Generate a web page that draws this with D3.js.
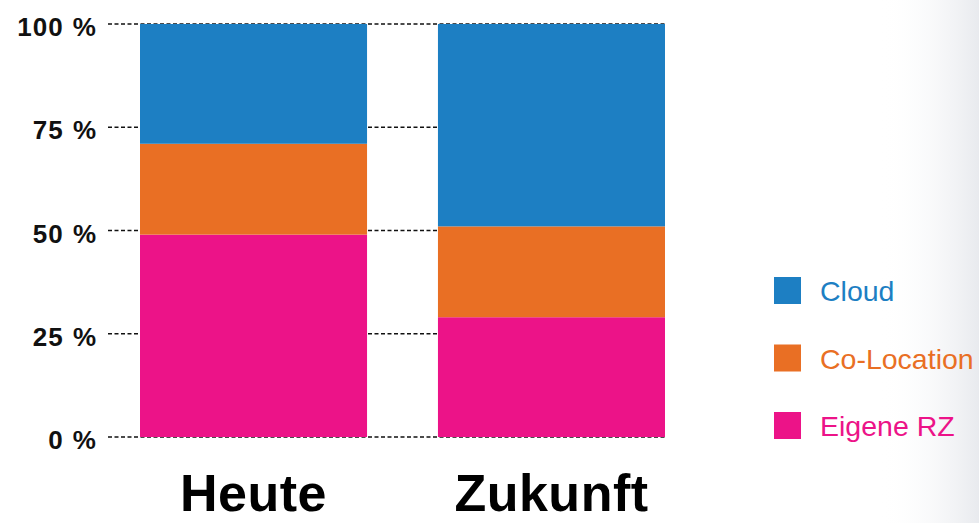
<!DOCTYPE html>
<html>
<head>
<meta charset="utf-8">
<script src="https://cdn.jsdelivr.net/npm/d3@7/dist/d3.min.js"></script>
<style>
  html, body { margin: 0; padding: 0; background: #fff; }
  svg { display: block; font-family: "Liberation Sans", Arial, Helvetica, sans-serif; }
</style>
</head>
<body>
<svg id="chart" width="979" height="523"></svg>
<script>
// Shares of infrastructure per period (percent)
const categories = ["Heute", "Zukunft"];
const seriesNames = ["Eigene RZ", "Co-Location", "Cloud"];
const eigeneRZ = [49, 29];
const coLocation = [22, 22];
const cloud = [29, 49];
const tickValues = [0, 25, 50, 75, 100];
const tickLabels = ["0 %", "25 %", "50 %", "75 %", "100 %"];
const colors = { "Cloud": "#1d7fc3", "Co-Location": "#e96f24", "Eigene RZ": "#ec1388" };
const legendOrder = ["Cloud", "Co-Location", "Eigene RZ"];

const rows = categories.map((c, i) => ({
  category: c,
  "Eigene RZ": eigeneRZ[i],
  "Co-Location": coLocation[i],
  "Cloud": cloud[i]
}));

const svg = d3.select("#chart");
const W = 979, H = 523;

// soft shading along the right edge
const defs = svg.append("defs");
const grad = defs.append("linearGradient").attr("id", "edgeShade")
  .attr("x1", "0").attr("x2", "1").attr("y1", "0").attr("y2", "0");
grad.append("stop").attr("offset", "0").attr("stop-color", "#ffffff").attr("stop-opacity", 0);
grad.append("stop").attr("offset", "1").attr("stop-color", "#e8eaee").attr("stop-opacity", 1);
svg.append("rect").attr("x", 880).attr("y", 0).attr("width", W - 880).attr("height", H)
  .attr("fill", "url(#edgeShade)");

const x = d3.scaleBand().domain(categories).range([140, 665]).paddingInner(0.238).paddingOuter(0);
const y = d3.scaleLinear().domain([0, 100]).range([437, 24]);

// dashed grid lines behind the bars
svg.append("g").selectAll("line").data(tickValues).join("line")
  .attr("x1", 108).attr("x2", x.range()[1])
  .attr("y1", d => y(d)).attr("y2", d => y(d))
  .attr("stroke", "#111").attr("stroke-width", 1.5)
  .attr("stroke-dasharray", "4,2.5");

// y tick labels
svg.append("g").selectAll("text").data(tickValues).join("text")
  .attr("x", 97).attr("y", d => y(d) + 12)
  .attr("text-anchor", "end")
  .attr("font-size", 26).attr("font-weight", "bold").attr("fill", "#111")
  .attr("letter-spacing", 1).attr("word-spacing", 1)
  .text((d, i) => tickLabels[i]);

// stacked bars
const stack = d3.stack().keys(seriesNames);
const layers = stack(rows);
svg.append("g").selectAll("g").data(layers).join("g")
  .attr("fill", d => colors[d.key])
  .selectAll("rect").data(d => d).join("rect")
  .attr("x", d => x(d.data.category))
  .attr("width", x.bandwidth())
  .attr("y", d => y(d[1]))
  .attr("height", d => y(d[0]) - y(d[1]));

// category labels
svg.append("g").selectAll("text").data(categories).join("text")
  .attr("x", d => x(d) + x.bandwidth() / 2)
  .attr("y", 511)
  .attr("text-anchor", "middle")
  .attr("font-size", 52).attr("font-weight", "bold").attr("fill", "#000")
  .attr("letter-spacing", 0.5)
  .text(d => d);

// legend
const legend = svg.append("g").selectAll("g").data(legendOrder).join("g")
  .attr("transform", (d, i) => `translate(774, ${277 + i * 67.5})`);
legend.append("rect").attr("width", 27).attr("height", 27).attr("fill", d => colors[d]);
legend.append("text").attr("x", 46).attr("y", 24)
  .attr("font-size", 28.5).attr("fill", d => colors[d])
  .text(d => d);
</script>
</body>
</html>
